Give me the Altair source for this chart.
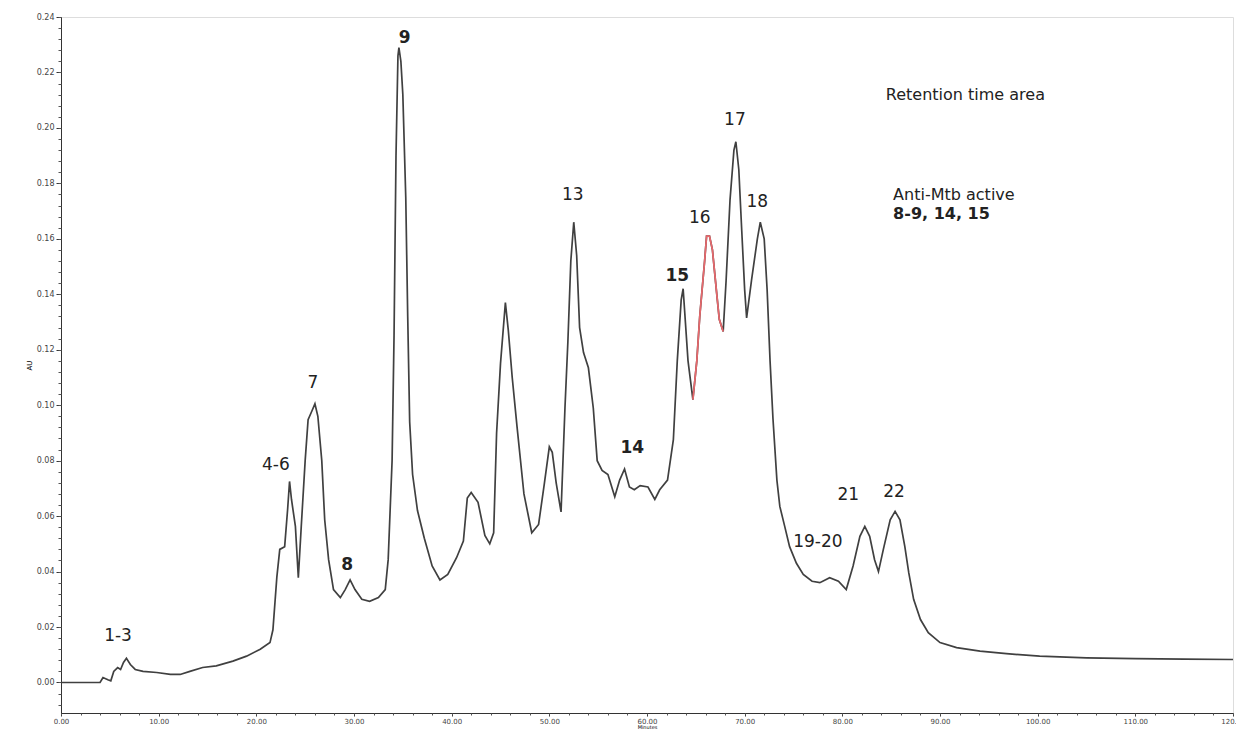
import altair as alt
import pandas as pd

# Chromatogram trace (minutes, AU)
time_min = [0, 4.0, 4.3, 4.8, 5.1, 5.4, 5.8, 6.1, 6.4, 6.7, 7.1, 7.6, 8.4, 9.8, 11.2, 12.2, 13.2, 14.5, 15.9, 17.6,
            19.0, 20.4, 21.4, 21.7, 22.1, 22.4, 22.9, 23.2, 23.4, 23.6, 24.0, 24.3, 24.6, 25.0, 25.3, 25.7, 26.0, 26.3,
            26.7, 27.0, 27.4, 27.9, 28.6, 29.1, 29.6, 30.1, 30.8, 31.6, 32.5, 33.2, 33.5, 33.9, 34.1, 34.3, 34.5, 34.6,
            34.8, 35.0, 35.3, 35.5, 35.7, 36.0, 36.5, 37.2, 38.0, 38.8, 39.6, 40.5, 41.2, 41.6, 42.0, 42.7, 43.4, 43.9,
            44.3, 44.6, 45.0, 45.5, 45.8, 46.2, 46.7, 47.4, 48.2, 48.9, 49.5, 50.0, 50.3, 50.7, 51.2, 51.6, 51.9, 52.2,
            52.5, 52.8, 53.1, 53.5, 54.0, 54.5, 54.9, 55.4, 56.0, 56.7, 57.2, 57.7, 58.2, 58.7, 59.3, 60.1, 60.8, 61.3,
            62.1, 62.7, 63.1, 63.5, 63.7, 64.2, 64.7, 65.1, 65.4, 65.9, 66.1, 66.4, 66.7, 67.1, 67.4, 67.8, 68.1, 68.5,
            68.9, 69.1, 69.4, 69.7, 70.0, 70.2, 70.7, 71.3, 71.6, 72.0, 72.3, 72.6, 72.9, 73.3, 73.6, 74.1, 74.6, 75.3,
            76.0, 76.9, 77.7, 78.7, 79.6, 80.4, 81.1, 81.8, 82.3, 82.8, 83.3, 83.7, 84.2, 84.9, 85.4, 85.9, 86.4, 86.8,
            87.3, 88.0, 88.8, 90.0, 91.7, 94.1, 96.8, 100.2, 105, 110, 115, 120]
absorbance = [0, 0, 0.0018, 0.001, 0.0006, 0.004, 0.0054, 0.0047, 0.0072, 0.0087, 0.0065, 0.0047, 0.004, 0.0036,
              0.0029, 0.0029, 0.004, 0.0054, 0.006, 0.0077, 0.0095, 0.012, 0.0144, 0.019, 0.038, 0.048, 0.049, 0.0623,
              0.0725, 0.066, 0.0563, 0.0378, 0.0563, 0.080, 0.0948, 0.098, 0.1005, 0.096, 0.080, 0.0587, 0.0443,
              0.0335, 0.0306, 0.0335, 0.037, 0.0335, 0.030, 0.0293, 0.0306, 0.0335, 0.0443, 0.080, 0.125, 0.19, 0.226,
              0.229, 0.224, 0.212, 0.175, 0.132, 0.094, 0.075, 0.062, 0.052, 0.042, 0.037, 0.039, 0.045, 0.051, 0.0665,
              0.0685, 0.065, 0.053, 0.050, 0.054, 0.09, 0.115, 0.137, 0.127, 0.110, 0.092, 0.068, 0.054, 0.057, 0.072,
              0.085, 0.083, 0.072, 0.0615, 0.099, 0.123, 0.152, 0.166, 0.154, 0.128, 0.119, 0.1135, 0.099, 0.080,
              0.0765, 0.075, 0.067, 0.073, 0.077, 0.0705, 0.0695, 0.071, 0.0705, 0.066, 0.0695, 0.073, 0.0876, 0.116,
              0.138, 0.142, 0.116, 0.102, 0.116, 0.132, 0.152, 0.161, 0.161, 0.156, 0.1416, 0.131, 0.1266, 0.145,
              0.174, 0.192, 0.195, 0.185, 0.163, 0.1416, 0.1315, 0.145, 0.160, 0.166, 0.160, 0.1416, 0.116, 0.095,
              0.073, 0.0635, 0.0563, 0.049, 0.043, 0.039, 0.0365, 0.036, 0.0378, 0.0365, 0.0335, 0.042, 0.0527,
              0.0563, 0.0527, 0.0443, 0.040, 0.048, 0.0587, 0.0617, 0.0587, 0.049, 0.0396, 0.030, 0.0227, 0.018,
              0.0144, 0.0126, 0.0113, 0.0104, 0.0095, 0.0089, 0.0086, 0.0084, 0.0083]

# Fraction 16 window (drawn in red)
red_start = 64.7
red_end = 67.8

# Peak labels
peak_text = ["1-3", "4-6", "7", "13", "16", "17", "18", "19-20", "21", "22"]
peak_x = [5.84, 22.0, 25.8, 52.4, 65.4, 69.0, 71.3, 77.5, 80.6, 85.3]
peak_y = [0.0166, 0.0786, 0.1081, 0.1759, 0.1676, 0.2029, 0.1733, 0.0505, 0.0677, 0.0688]

bold_text = ["8", "9", "14", "15"]
bold_x = [29.3, 35.2, 58.5, 63.1]
bold_y = [0.0422, 0.2324, 0.0847, 0.1467]

note_text = ["Retention time area"]
note_x = [92.6]
note_y = [0.2119]

active_text = ["Anti-Mtb active", "8-9, 14, 15"]
active_x = [85.2, 85.2]
active_y = [0.1759, 0.1690]
active_bold = [False, True]

x_major = [0, 10, 20, 30, 40, 50, 60, 70, 80, 90, 100, 110, 120]
y_major = [0.00, 0.02, 0.04, 0.06, 0.08, 0.10, 0.12, 0.14, 0.16, 0.18, 0.20, 0.22, 0.24]
x_minor = [i * 2 for i in range(61)]
y_minor = [round(-0.008 + i * 0.004, 3) for i in range(63)]

X_DOM = [0, 120]
Y_DOM = [-0.011, 0.24]

FONT = "DejaVu Sans"

trace = pd.DataFrame({"t": time_min, "au": absorbance})
red = trace[(trace.t >= red_start) & (trace.t <= red_end)]

xs = alt.Scale(domain=X_DOM, nice=False, zero=False)
ys = alt.Scale(domain=Y_DOM, nice=False, zero=False)

x_axis = alt.Axis(values=x_major, format=".2f", title="Minutes", titleFontSize=5, titleFont=FONT,
                  titleFontWeight="normal", titlePadding=0, labelFontSize=7, labelFont=FONT,
                  labelColor="#444", tickSize=3, labelPadding=1, tickColor="#333", domainColor="#333",
                  grid=False, labelFlush=False)
y_axis = alt.Axis(values=y_major, format=".2f", title="AU", titleFontSize=7, titleFont=FONT,
                  titleFontWeight="normal", titlePadding=4, labelFontSize=8, labelFont=FONT,
                  labelColor="#444", tickSize=5, tickColor="#333", domainColor="#333", grid=False)

main_line = alt.Chart(trace).mark_line(color="#404040", strokeWidth=1.7).encode(
    x=alt.X("t:Q", scale=xs, axis=x_axis),
    y=alt.Y("au:Q", scale=ys, axis=y_axis),
)

red_line = alt.Chart(red).mark_line(color="#e8686c", strokeWidth=1.7).encode(
    x=alt.X("t:Q", scale=xs),
    y=alt.Y("au:Q", scale=ys),
)

minor = alt.Chart(trace).mark_line(opacity=0).encode(
    x=alt.X("t:Q", scale=xs, axis=alt.Axis(values=x_minor, labels=False, title=None, tickSize=2,
                                           tickColor="#555", domain=False, grid=False, orient="bottom")),
    y=alt.Y("au:Q", scale=ys, axis=alt.Axis(values=y_minor, labels=False, title=None, tickSize=3,
                                            tickColor="#555", domain=False, grid=False, orient="left")),
)

peaks_df = pd.DataFrame({"label": peak_text, "t": peak_x, "au": peak_y})
bold_df = pd.DataFrame({"label": bold_text, "t": bold_x, "au": bold_y})
note_df = pd.DataFrame({"label": note_text, "t": note_x, "au": note_y})
active_df = pd.DataFrame({"label": active_text, "t": active_x, "au": active_y, "b": active_bold})

peak_marks = alt.Chart(peaks_df).mark_text(font=FONT, fontSize=17, color="#222", baseline="middle",
                                           align="center").encode(
    x=alt.X("t:Q", scale=xs), y=alt.Y("au:Q", scale=ys), text="label:N")
bold_marks = alt.Chart(bold_df).mark_text(font=FONT, fontSize=17, fontWeight="bold", color="#222",
                                          baseline="middle", align="center").encode(
    x=alt.X("t:Q", scale=xs), y=alt.Y("au:Q", scale=ys), text="label:N")
note_marks = alt.Chart(note_df).mark_text(font=FONT, fontSize=16, color="#222", baseline="middle",
                                          align="center").encode(
    x=alt.X("t:Q", scale=xs), y=alt.Y("au:Q", scale=ys), text="label:N")
active_norm = alt.Chart(active_df).transform_filter("!datum.b").mark_text(
    font=FONT, fontSize=16, color="#222", baseline="middle", align="left").encode(
    x=alt.X("t:Q", scale=xs), y=alt.Y("au:Q", scale=ys), text="label:N")
active_bold_m = alt.Chart(active_df).transform_filter("datum.b").mark_text(
    font=FONT, fontSize=16, fontWeight="bold", color="#222", baseline="middle", align="left").encode(
    x=alt.X("t:Q", scale=xs), y=alt.Y("au:Q", scale=ys), text="label:N")

base = alt.layer(main_line, red_line, peak_marks, bold_marks, note_marks, active_norm, active_bold_m)

chart = alt.layer(base, minor).resolve_scale(x="independent", y="independent").properties(
    width=1172, height=696,
    autosize=alt.AutoSizeParams(type="none"),
    padding={"left": 53, "top": 9, "right": 3, "bottom": 16},
).configure_view(stroke="#333", strokeWidth=1).configure(background="white")

chart.save("out.html", embed_options={"renderer": "svg", "actions": False})
